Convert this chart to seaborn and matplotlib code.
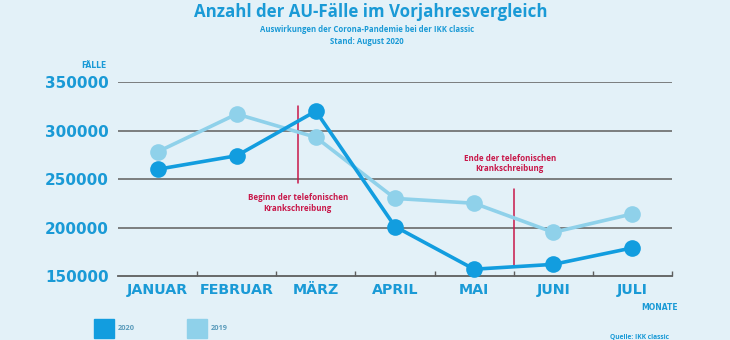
import matplotlib
matplotlib.use("Agg")
import matplotlib.pyplot as plt
import seaborn as sns
import pandas as pd
import numpy as np
from matplotlib.patches import Rectangle

months = ["JANUAR", "FEBRUAR", "MÄRZ", "APRIL", "MAI", "JUNI", "JULI"]
faelle_2020 = [260000, 274000, 320000, 201000, 157000, 162000, 179000]
faelle_2019 = [278000, 317000, 293000, 230000, 225000, 195000, 214000]
y_ticks = [150000, 200000, 250000, 300000, 350000]

BG = "#e3f1f8"
BLUE = "#1a9ad6"
C2020 = "#129ddf"
C2019 = "#8fd1ea"
RED = "#c8184a"
GRID = "#5e5e5e"

sns.set_theme(style="white")
plt.rcParams["font.family"] = ["DejaVu Sans"]

df = pd.DataFrame({
    "idx": list(range(len(months))) * 2,
    "faelle": faelle_2019 + faelle_2020,
    "jahr": ["2019"] * len(months) + ["2020"] * len(months),
})

fig = plt.figure(figsize=(7.3, 3.4), dpi=100, facecolor=BG)
ax = fig.add_axes([118 / 730, 1 - 276 / 340, (672 - 118) / 730, (276 - 82) / 340])
ax.set_facecolor(BG)

for yv in y_ticks[1:]:
    ax.axhline(yv, color=GRID, lw=1.1, zorder=1)

sns.lineplot(data=df, x="idx", y="faelle", hue="jahr", hue_order=["2019", "2020"],
             palette={"2019": C2019, "2020": C2020}, marker="o", markersize=12,
             markeredgewidth=0, linewidth=2.6, ax=ax, legend=False, zorder=3, clip_on=False)

ax.set_xlim(-0.5, 6.5)
ax.set_ylim(150000, 350000)
ax.set_xticks(range(len(months)))
ax.set_xticklabels(months, fontsize=10.3, fontweight="bold", color=BLUE)
ax.set_xticks(np.arange(0.5, 6.6, 1), minor=True)
ax.tick_params(axis="x", which="major", length=0, pad=5)
ax.tick_params(axis="x", which="minor", length=3.5, width=1, color=GRID, direction="in", bottom=True)
ax.set_yticks(y_ticks)
ax.set_yticklabels([str(v) for v in y_ticks], fontsize=11, fontweight="bold", color=BLUE)
ax.tick_params(axis="y", length=0, pad=6.5)
ax.set_xlabel("")
ax.set_ylabel("")
for s in ["top", "right", "left"]:
    ax.spines[s].set_visible(False)
ax.spines["bottom"].set_color(GRID)
ax.spines["bottom"].set_linewidth(1.3)

# Vertical markers
ax.plot([1.77, 1.77], [325300, 245900], color=RED, lw=1.1, zorder=2)
ax.plot([4.5, 4.5], [239700, 159300], color=RED, lw=1.1, zorder=2)
ax.text(1.77, 225500, "Beginn der telefonischen\nKrankschreibung", ha="center", va="center",
        fontsize=5.8, fontweight="bold", color=RED, family=["Open Sans", "DejaVu Sans"], linespacing=1.25)
ax.text(4.45, 266000, "Ende der telefonischen\nKrankschreibung", ha="center", va="center",
        fontsize=5.8, fontweight="bold", color=RED, family=["Open Sans", "DejaVu Sans"], linespacing=1.25)

# Titles
fig.text(371 / 730, 1 - 12 / 340, "Anzahl der AU-Fälle im Vorjahresvergleich", ha="center", va="center",
         fontsize=12.2, fontweight="bold", color=BLUE, family=["Open Sans", "DejaVu Sans"])
fig.text(367 / 730, 1 - 30 / 340, "Auswirkungen der Corona-Pandemie bei der IKK classic", ha="center",
         va="center", fontsize=5.6, fontweight="bold", color=BLUE, family=["Open Sans", "DejaVu Sans"])
fig.text(367 / 730, 1 - 41 / 340, "Stand: August 2020", ha="center",
         va="center", fontsize=5.6, fontweight="bold", color=BLUE, family=["Open Sans", "DejaVu Sans"])

fig.text(107 / 730, 1 - 65 / 340, "FÄLLE", ha="right", va="center", fontsize=5.5,
         fontweight="bold", color=BLUE)
fig.text(678 / 730, 1 - 308 / 340, "MONATE", ha="right", va="center", fontsize=5.5,
         fontweight="bold", color=BLUE)
fig.text(669 / 730, 1 - 337 / 340, "Quelle: IKK classic", ha="right", va="center", fontsize=4.8,
         fontweight="bold", color=BLUE, family=["Open Sans", "DejaVu Sans"])

# Legend
for x0, col, lab in [(94, C2020, "2020"), (187, C2019, "2019")]:
    fig.patches.append(Rectangle((x0 / 730, 1 - 338 / 340), 20 / 730, 19 / 340,
                                 transform=fig.transFigure, color=col, zorder=5))
    fig.text((x0 + 24) / 730, 1 - 328 / 340, lab, ha="left", va="center", fontsize=5.3,
             fontweight="bold", color="#5a9bbb", family=["Open Sans", "DejaVu Sans"])

fig.savefig("out.png", dpi=100, facecolor=BG)
